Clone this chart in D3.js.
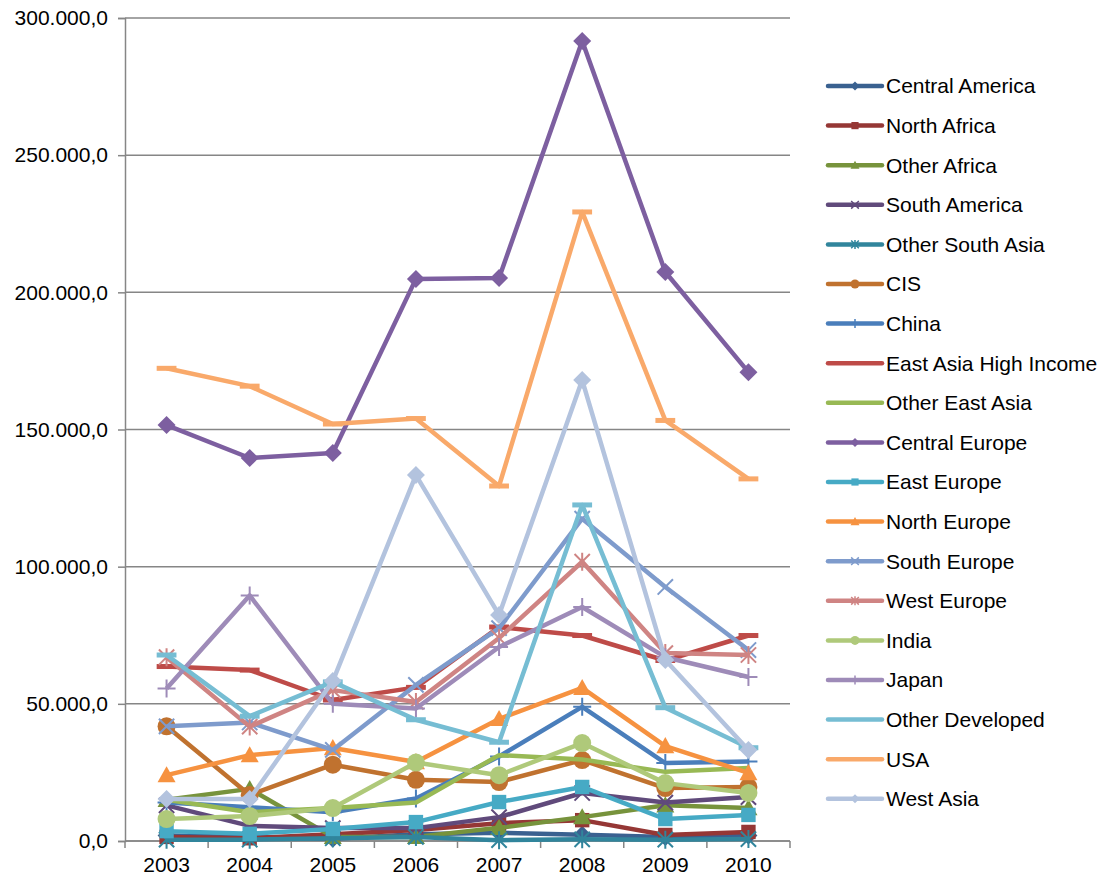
<!DOCTYPE html>
<html>
<head>
<meta charset="utf-8">
<script src="https://cdn.jsdelivr.net/npm/d3@7"></script>
<style>
  body { margin: 0; background: #fff; }
  text { font-family: "Liberation Sans", Arial, sans-serif; }
</style>
</head>
<body>
<div id="chart"></div>
<script>
// categories
let years = ["2003", "2004", "2005", "2006", "2007", "2008", "2009", "2010"]
let yTicks = [0, 50000, 100000, 150000, 200000, 250000, 300000]

// series values
let centralAmerica = [2000, 1500, 800, 2500, 3000, 2300, 1500, 2000]
let northAfrica = [1500, 1000, 2500, 4000, 6500, 7600, 2200, 3300]
let otherAfrica = [15000, 19000, 1500, 1500, 4800, 8700, 13000, 12000]
let southAmerica = [13000, 5500, 4700, 4700, 8700, 17500, 14000, 16000]
let otherSouthAsia = [500, 500, 1000, 1500, 300, 600, 500, 700]
let cis = [41800, 16800, 27800, 22300, 21500, 29500, 19300, 19700]
let china = [14000, 12300, 10500, 15500, 30800, 48900, 28400, 29000]
let eastAsiaHigh = [63600, 62300, 51400, 56000, 78000, 74900, 65800, 74900]
let otherEastAsia = [15000, 10500, 12000, 14000, 31300, 29700, 25200, 26600]
let centralEurope = [151600, 139600, 141400, 204900, 205200, 291600, 207400, 170900]
let eastEurope = [3600, 2600, 4400, 6900, 14200, 19700, 8000, 9500]
let northEurope = [24000, 31300, 33900, 28800, 44500, 55800, 34600, 24800]
let southEurope = [41800, 43200, 33200, 56900, 77600, 117500, 92600, 69600]
let westEurope = [67000, 41700, 55000, 50700, 74000, 101800, 68500, 67800]
let india = [8000, 9100, 12000, 28600, 24000, 35700, 21100, 17500]
let japan = [55600, 89500, 50000, 48300, 70700, 85300, 67000, 59800]
let otherDeveloped = [67800, 45500, 58000, 44200, 36000, 122500, 48600, 34000]
let usa = [172300, 165800, 152000, 154000, 129400, 229300, 153300, 132000]
let westAsia = [15300, 15300, 58300, 133400, 82400, 168000, 66000, 33200]

let seriesNames = ["Central America", "North Africa", "Other Africa", "South America",
    "Other South Asia", "CIS", "China", "East Asia High Income", "Other East Asia",
    "Central Europe", "East Europe", "North Europe", "South Europe", "West Europe",
    "India", "Japan", "Other Developed", "USA", "West Asia"]
let seriesValues = [centralAmerica, northAfrica, otherAfrica, southAmerica,
    otherSouthAsia, cis, china, eastAsiaHigh, otherEastAsia,
    centralEurope, eastEurope, northEurope, southEurope, westEurope,
    india, japan, otherDeveloped, usa, westAsia]
let seriesColors = ["#3A6190", "#953735", "#77933C", "#604A7B", "#31859C", "#C0722F",
    "#4A7EBB", "#BE4B48", "#98B954", "#7D5FA0", "#46AAC5", "#F69240",
    "#7E9BCC", "#CF8483", "#AFC97A", "#9E8BB8", "#76BDD3", "#F9A96A", "#B3C3DE"]
let seriesMarkers = ["diamond", "square", "triangle", "x", "star", "circle", "plus",
    "dash", "none", "diamond", "square", "triangle", "x", "star", "circle", "plus",
    "dash", "dash", "diamond"]

let width = 1109, height = 882
let margin = { left: 125, top: 18, right: 319, bottom: 41 }
let plotW = width - margin.left - margin.right
let plotH = height - margin.top - margin.bottom
let gridColor = "#868686"
let fontSize = 21

let svg = d3.select("#chart").append("svg")
    .attr("width", width).attr("height", height)

let chart = svg.append("g")
    .attr("transform", "translate(" + margin.left + "," + margin.top + ")")

let xScale = d3.scaleBand().domain(years).range([0, plotW])
let yScale = d3.scaleLinear().domain([0, 300000]).range([plotH, 0])

let locale = d3.formatLocale({ decimal: ",", thousands: ".", grouping: [3], currency: ["", ""] })
let fmt = locale.format(",.1f")

// gridlines
chart.append("g").selectAll("line")
    .data(yTicks).enter().append("line")
    .attr("x1", 0).attr("x2", plotW)
    .attr("y1", d => yScale(d)).attr("y2", d => yScale(d))
    .attr("stroke", gridColor).attr("stroke-width", 1.5)

// y axis
let yAxis = chart.append("g")
    .call(d3.axisLeft(yScale).tickValues(yTicks).tickFormat(fmt).tickSize(7).tickPadding(10))
yAxis.select(".domain").attr("stroke", gridColor).attr("stroke-width", 1.5)
yAxis.selectAll(".tick line").attr("stroke", gridColor).attr("stroke-width", 1.5)
yAxis.selectAll("text").attr("font-size", fontSize).attr("fill", "#000")
    .style("font-family", "'Liberation Sans', Arial, sans-serif")

// x axis
let xAxis = chart.append("g")
    .attr("transform", "translate(0," + plotH + ")")
    .call(d3.axisBottom(xScale).tickSize(0).tickPadding(16))
xAxis.select(".domain").remove()
xAxis.append("line").attr("x1", 0).attr("x2", plotW)
    .attr("stroke", gridColor).attr("stroke-width", 1.5)
xAxis.selectAll("text").attr("font-size", fontSize).attr("fill", "#000")
    .style("font-family", "'Liberation Sans', Arial, sans-serif")
// tick marks between the categories
let bounds = years.map(d => xScale(d)).concat([plotW])
xAxis.append("g").selectAll("line")
    .data(bounds).enter().append("line")
    .attr("x1", d => d).attr("x2", d => d)
    .attr("y1", 0).attr("y2", 7)
    .attr("stroke", gridColor).attr("stroke-width", 1.5)

function drawMarker(g, type, cx, cy, s, color) {
    // s is the full marker size in px
    let h = s / 2
    if (type == "diamond") {
        g.append("path")
            .attr("d", "M" + cx + "," + (cy - h) + "L" + (cx + h) + "," + cy +
                "L" + cx + "," + (cy + h) + "L" + (cx - h) + "," + cy + "Z")
            .attr("fill", color)
    } else if (type == "square") {
        let q = h * 0.8
        g.append("rect").attr("x", cx - q).attr("y", cy - q)
            .attr("width", q * 2).attr("height", q * 2).attr("fill", color)
    } else if (type == "triangle") {
        g.append("path")
            .attr("d", "M" + cx + "," + (cy - h) + "L" + (cx + h) + "," + (cy + h * 0.8) +
                "L" + (cx - h) + "," + (cy + h * 0.8) + "Z")
            .attr("fill", color)
    } else if (type == "circle") {
        g.append("circle").attr("cx", cx).attr("cy", cy).attr("r", h).attr("fill", color)
    } else if (type == "x" || type == "star" || type == "plus") {
        let q = h * 0.85
        let d = ""
        if (type != "plus") {
            d += "M" + (cx - q) + "," + (cy - q) + "L" + (cx + q) + "," + (cy + q)
            d += "M" + (cx - q) + "," + (cy + q) + "L" + (cx + q) + "," + (cy - q)
        }
        if (type == "star" || type == "plus") {
            d += "M" + cx + "," + (cy - h) + "L" + cx + "," + (cy + h)
        }
        if (type == "plus") {
            d += "M" + (cx - h) + "," + cy + "L" + (cx + h) + "," + cy
        }
        g.append("path").attr("d", d).attr("fill", "none")
            .attr("stroke", color).attr("stroke-width", s > 12 ? 2 : 1.5)
    } else if (type == "dash") {
        g.append("rect").attr("x", cx - h * 1.1).attr("y", cy - 2.5)
            .attr("width", h * 2.2).attr("height", 5).attr("fill", color)
    }
}

let valueline = d3.line()
    .x((d, i) => xScale(years[i]) + xScale.bandwidth() / 2)
    .y(d => yScale(d))

// draw series in order so later ones sit on top
for (let n = 0; n < seriesNames.length; n++) {
    let g = chart.append("g").attr("class", "series")
    g.append("path")
        .attr("d", valueline(seriesValues[n]))
        .attr("fill", "none")
        .attr("stroke", seriesColors[n])
        .attr("stroke-width", 4.5)
        .attr("stroke-linejoin", "round")
    for (let i = 0; i < years.length; i++) {
        drawMarker(g, seriesMarkers[n], xScale(years[i]) + xScale.bandwidth() / 2,
            yScale(seriesValues[n][i]), 18, seriesColors[n])
    }
}

// legend
let legend = svg.append("g").attr("transform", "translate(828,86)")
let rowGap = 39.6
for (let n = 0; n < seriesNames.length; n++) {
    let row = legend.append("g").attr("transform", "translate(0," + (n * rowGap) + ")")
    row.append("line").attr("x1", 0).attr("x2", 54)
        .attr("stroke", seriesColors[n]).attr("stroke-width", 4.5)
        .attr("stroke-linecap", "round")
    if (seriesMarkers[n] != "dash") {
        drawMarker(row, seriesMarkers[n], 27, 0, 9, seriesColors[n])
    }
    row.append("text").attr("x", 58).attr("y", 0).attr("dy", "0.35em")
        .attr("font-size", fontSize).attr("fill", "#000")
        .text(seriesNames[n])
}
</script>
</body>
</html>
